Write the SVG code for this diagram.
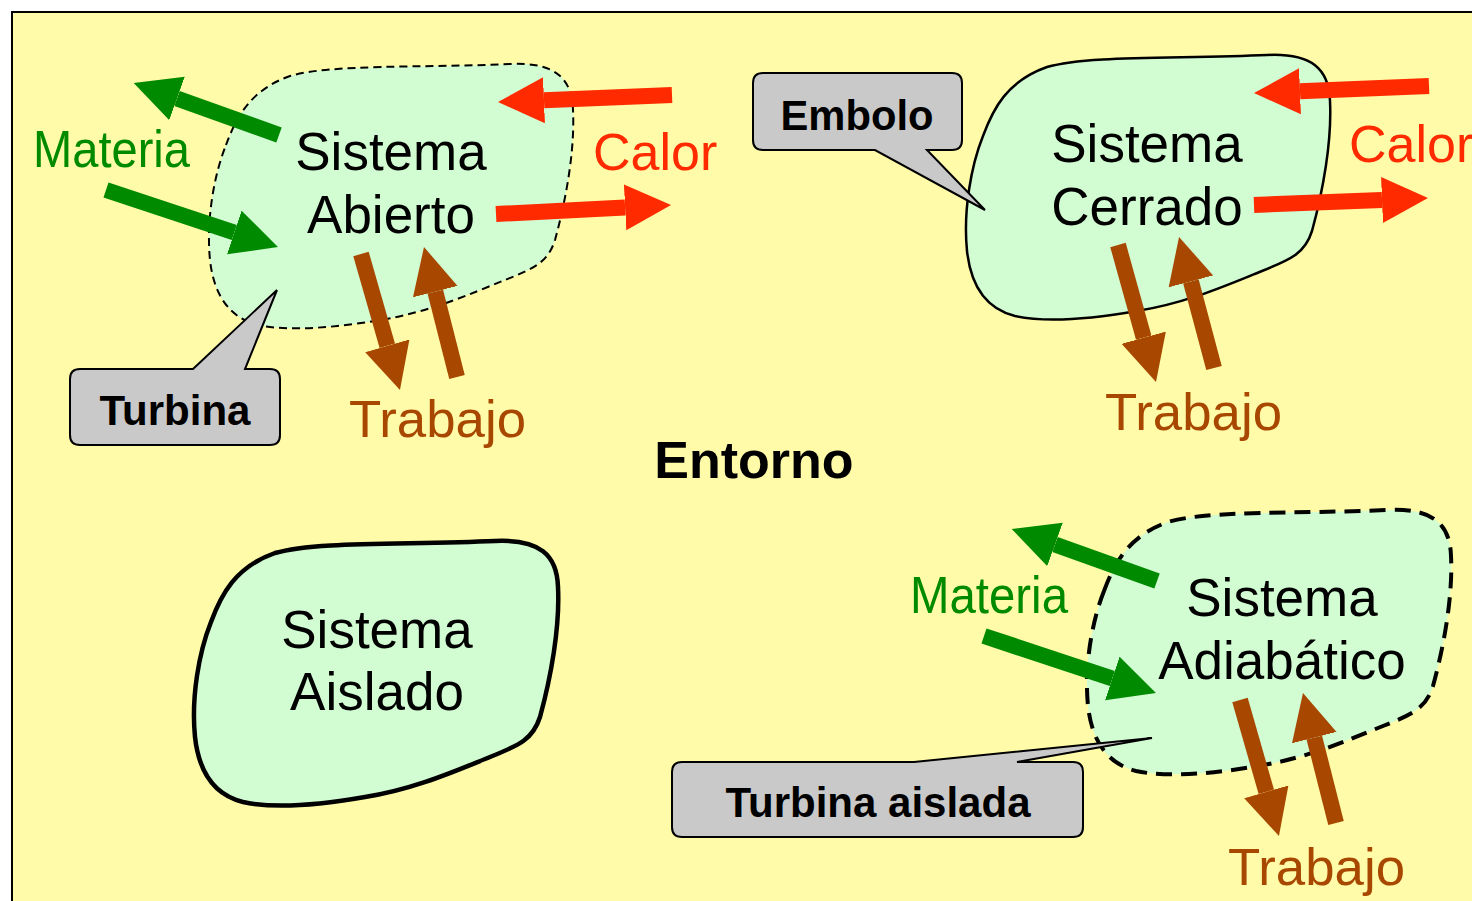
<svg xmlns="http://www.w3.org/2000/svg" xmlns:xlink="http://www.w3.org/1999/xlink" width="1472" height="901" viewBox="0 0 1472 901">
<style>
.sys{font-family:"Liberation Sans",Arial,sans-serif;font-size:53px;fill:#000;text-anchor:middle}
.lbl{font-family:"Liberation Sans",Arial,sans-serif;font-size:52px}
.bold{font-family:"Liberation Sans",Arial,sans-serif;font-size:42px;font-weight:bold;fill:#000;text-anchor:middle}
.green{fill:#008A00}
.red{fill:#FF2A00}
.brown{fill:#A84800}
.blob{fill:#D2FCD2;stroke:#000}
.callout{fill:#C9C9C9;stroke:#000;stroke-width:2;stroke-linejoin:miter}
.arr{stroke-width:16;fill:none;stroke-linecap:butt}
.ag{stroke:#008A00}
.ar{stroke:#FF2A00}
.ab{stroke:#A84800}
</style>
<defs>
<path id="blob" d="M 226,145 C 236,118 250,90 290,76 C 330,64 420,68 510,64 C 555,62 572,78 573,110 C 575,150 566,200 555,240 C 548,262 535,268 505,280 C 470,294 430,312 380,320 C 340,327 290,332 258,325 C 230,318 214,296 210,260 C 206,220 214,175 226,145 Z"/>
<marker id="hg" markerUnits="userSpaceOnUse" markerWidth="48" markerHeight="48" refX="0" refY="23" orient="auto"><path d="M0,0 L46,23 L0,46 Z" fill="#008A00"/></marker>
<marker id="hr" markerUnits="userSpaceOnUse" markerWidth="48" markerHeight="48" refX="0" refY="23" orient="auto"><path d="M0,0 L46,23 L0,46 Z" fill="#FF2A00"/></marker>
<marker id="hb" markerUnits="userSpaceOnUse" markerWidth="48" markerHeight="48" refX="0" refY="23" orient="auto"><path d="M0,0 L46,23 L0,46 Z" fill="#A84800"/></marker>
</defs>
<rect x="0" y="0" width="1472" height="901" fill="#FFFFFF"/>
<rect id="entorno-frame" x="12" y="12" width="1480" height="910" fill="#FFFBA8" stroke="#000" stroke-width="2"/>
<g id="sistema-abierto">
<use xlink:href="#blob" href="#blob" class="blob" stroke-width="2" stroke-dasharray="8 5"/>
<text class="sys" x="391" y="170">Sistema</text>
<text class="sys" x="391" y="233">Abierto</text>
</g>
<g id="sistema-cerrado">
<use xlink:href="#blob" href="#blob" class="blob" stroke-width="2.5" transform="translate(757,-9)"/>
<text class="sys" x="1147" y="162">Sistema</text>
<text class="sys" x="1147" y="225">Cerrado</text>
</g>
<g id="sistema-aislado">
<use xlink:href="#blob" href="#blob" class="blob" stroke-width="4.5" transform="translate(-15,477)"/>
<text class="sys" x="377" y="648">Sistema</text>
<text class="sys" x="377" y="710">Aislado</text>
</g>
<g id="sistema-adiabatico">
<use xlink:href="#blob" href="#blob" class="blob" stroke-width="4" stroke-dasharray="16 9" transform="translate(878,446)"/>
<text class="sys" x="1282" y="616">Sistema</text>
<text class="sys" x="1282" y="679">Adiabático</text>
</g>
<g id="callout-turbina">
<path class="callout" d="M 80,369 L 193,369 L 277,290 L 245,369 L 270,369 Q 280,369 280,379 L 280,435 Q 280,445 270,445 L 80,445 Q 70,445 70,435 L 70,379 Q 70,369 80,369 Z"/>
<text class="bold" x="175" y="425" textLength="151" lengthAdjust="spacingAndGlyphs">Turbina</text>
</g>
<g id="callout-embolo">
<path class="callout" d="M 763,73 L 952,73 Q 962,73 962,83 L 962,140 Q 962,150 952,150 L 927,150 L 985,210 L 875,150 L 763,150 Q 753,150 753,140 L 753,83 Q 753,73 763,73 Z"/>
<text class="bold" x="857" y="130" textLength="153" lengthAdjust="spacingAndGlyphs">Embolo</text>
</g>
<g id="callout-turbina-aislada">
<path class="callout" d="M 682,762 L 914,762 L 1152,738 L 1017,762 L 1073,762 Q 1083,762 1083,772 L 1083,827 Q 1083,837 1073,837 L 682,837 Q 672,837 672,827 L 672,772 Q 672,762 682,762 Z"/>
<text class="bold" x="878" y="817" textLength="305" lengthAdjust="spacingAndGlyphs">Turbina aislada</text>
</g>
<g id="connectors">
<line class="arr ag" x1="279" y1="135" x2="177" y2="98.5" marker-end="url(#hg)"/>
<line class="arr ag" x1="106" y1="190" x2="234.3" y2="232.5" marker-end="url(#hg)"/>
<line class="arr ar" x1="672" y1="95" x2="544" y2="100.2" marker-end="url(#hr)"/>
<line class="arr ar" x1="496" y1="214" x2="625.1" y2="207.4" marker-end="url(#hr)"/>
<line class="arr ab" x1="361" y1="254" x2="387.3" y2="345.8" marker-end="url(#hb)"/>
<line class="arr ab" x1="457" y1="377" x2="435.3" y2="291.6" marker-end="url(#hb)"/>
<line class="arr ar" x1="1429" y1="86" x2="1300" y2="91.2" marker-end="url(#hr)"/>
<line class="arr ar" x1="1254" y1="205" x2="1382" y2="199.9" marker-end="url(#hr)"/>
<line class="arr ab" x1="1118" y1="245" x2="1143.7" y2="337.7" marker-end="url(#hb)"/>
<line class="arr ab" x1="1214" y1="368" x2="1190.9" y2="281.4" marker-end="url(#hb)"/>
<line class="arr ag" x1="1157" y1="581" x2="1055" y2="544.5" marker-end="url(#hg)"/>
<line class="arr ag" x1="984" y1="636" x2="1112.3" y2="678.5" marker-end="url(#hg)"/>
<line class="arr ab" x1="1240" y1="700" x2="1266.3" y2="791.8" marker-end="url(#hb)"/>
<line class="arr ab" x1="1336" y1="823" x2="1314.3" y2="737.6" marker-end="url(#hb)"/>
</g>
<g id="labels">
<text class="lbl green" x="33" y="167" textLength="157" lengthAdjust="spacingAndGlyphs">Materia</text>
<text class="lbl red" x="593" y="170">Calor</text>
<text class="lbl brown" x="349" y="437" textLength="177" lengthAdjust="spacingAndGlyphs">Trabajo</text>
<text class="lbl red" x="1349" y="162">Calor</text>
<text class="lbl brown" x="1105" y="430" textLength="177" lengthAdjust="spacingAndGlyphs">Trabajo</text>
<text class="lbl green" x="910" y="613" textLength="158" lengthAdjust="spacingAndGlyphs">Materia</text>
<text class="lbl brown" x="1228" y="885" textLength="177" lengthAdjust="spacingAndGlyphs">Trabajo</text>
<text class="bold" x="754" y="478" style="font-size:52px">Entorno</text>
</g>
</svg>
